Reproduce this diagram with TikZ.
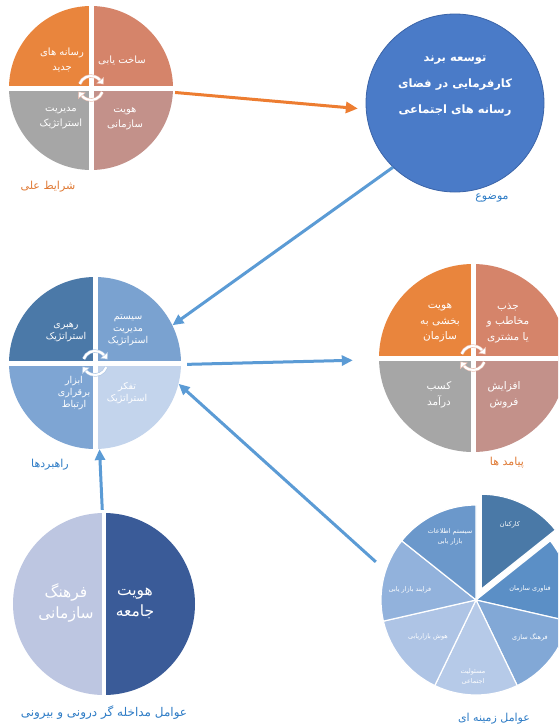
\documentclass[tikz,border=0pt]{standalone}
\usepackage{fontspec}
\usetikzlibrary{arrows.meta}
\TeXXeTstate=1
\newfontfamily\ar[Script=Arabic]{DejaVu Sans}
\newcommand{\fa}[1]{{\beginR #1\endR}}
\definecolor{qorange}{HTML}{E9853D}
\definecolor{qsalmon}{HTML}{D5846A}
\definecolor{qgray}{HTML}{A6A6A6}
\definecolor{qrosy}{HTML}{C3918A}
\definecolor{bigblue}{HTML}{4A7BC8}
\definecolor{bigblueD}{HTML}{3B64A8}
\definecolor{mA}{HTML}{4B79A8}
\definecolor{mB}{HTML}{7AA2D0}
\definecolor{mC}{HTML}{7EA5D3}
\definecolor{mD}{HTML}{C3D4EC}
\definecolor{hL}{HTML}{BDC6E1}
\definecolor{hR}{HTML}{3A5B98}
\definecolor{arrblue}{HTML}{5B9BD5}
\definecolor{arrorange}{HTML}{ED7D31}
\definecolor{labblue}{HTML}{2E7CC6}
\definecolor{laborange}{HTML}{E07A35}
\definecolor{p0}{HTML}{4A79A7}
\definecolor{p1}{HTML}{5B8FC6}
\definecolor{p2}{HTML}{82A8D6}
\definecolor{p3}{HTML}{B6CAE8}
\definecolor{p4}{HTML}{AEC4E5}
\definecolor{p5}{HTML}{92B2DC}
\definecolor{p6}{HTML}{6B98CB}
\newcommand\qcirc[7]{%
  \fill[#4] (#1,#2) -- ++(180:#3) arc[start angle=180,end angle=90,radius=#3] -- cycle;
  \fill[#5] (#1,#2) -- ++(90:#3) arc[start angle=90,end angle=0,radius=#3] -- cycle;
  \fill[#6] (#1,#2) -- ++(180:#3) arc[start angle=180,end angle=270,radius=#3] -- cycle;
  \fill[#7] (#1,#2) -- ++(270:#3) arc[start angle=270,end angle=360,radius=#3] -- cycle;
  \draw[white,line width=5pt] ([xshift=-#3-2pt]#1,#2) -- ([xshift=#3+2pt]#1,#2);
  \draw[white,line width=5pt] ([yshift=-#3-2pt]#1,#2) -- ([yshift=#3+2pt]#1,#2);
}
\newcommand\cyc[3]{%
  \begin{scope}[shift={(#1,#2)}]
    \draw[line width=3.4pt,#3] (160:12) arc[start angle=160,end angle=40,radius=12];
    \draw[line width=3.4pt,#3] (-20:12) arc[start angle=-20,end angle=-140,radius=12];
    \draw[line width=2.2pt,white] (160:12) arc[start angle=160,end angle=40,radius=12];
    \draw[line width=2.2pt,white] (-20:12) arc[start angle=-20,end angle=-140,radius=12];
    \filldraw[fill=white,draw=#3,line width=0.5pt] (12.4,3.9) -- (40:7.5) -- (40:16.5) -- cycle;
    \filldraw[fill=white,draw=#3,line width=0.5pt] (-12.4,-3.9) -- (-140:7.5) -- (-140:16.5) -- cycle;
  \end{scope}}
\begin{document}
\begin{tikzpicture}[x=1pt,y=1pt,
  lab/.style={font=\ar\fontsize{11}{13}\selectfont},
  qt/.style={text=white,align=center,font=\ar\fontsize{10}{14.5}\selectfont},
  ot/.style={text=white,align=center,font=\ar\fontsize{10.5}{15.5}\selectfont},
  mt/.style={text=white,align=center,font=\ar\fontsize{9.5}{12}\selectfont},
  pt/.style={text=white,align=center,font=\ar\fontsize{6.5}{10}\selectfont},
  ring/.style={circle,inner sep=0pt,draw=none},
  arr/.style={line width=3pt,draw=arrblue,-{Triangle[width=10pt,length=11pt]}},
  oarr/.style={line width=3pt,draw=arrorange,-{Triangle[width=11pt,length=12pt]}}]
\useasboundingbox (0,0) rectangle (558,-728);
\clip (0,0) rectangle (558,-728);
\fill[white] (0,0) rectangle (558,-728);

% ---- top-left: causal conditions
\qcirc{91}{-88}{82}{qorange}{qsalmon}{qgray}{qrosy}
\cyc{91}{-88}{qsalmon!55}
\node[ring,minimum size=164pt] (tl) at (91,-88) {};
\node[qt] (tl1) at (62,-60) {\fa{رسانه های}\\\fa{جدید}};
\node[qt] (tl2) at (122,-60) {\fa{ساخت یابی}};
\node[qt] (tl3) at (61,-118) {\fa{مدیریت}\\\fa{استراتژیک}};
\node[qt] (tl4) at (125,-119) {\fa{هویت}\\\fa{سازمانی}};
\node[lab,text=laborange] (tllab) at (48,-187) {\fa{شرایط علی}};

% ---- topic circle
\node[ring,minimum size=178pt,fill=bigblue,draw=bigblueD,line width=0.8pt] (topic) at (455,-103) {};
\node[text=white,align=center,font=\ar\bfseries\fontsize{11.5}{26}\selectfont] (topict) at (455,-86)
  {\fa{توسعه برند}\\\fa{کارفرمایی  در فضای}\\\fa{رسانه های اجتماعی}};
\node[lab,text=labblue] (topiclab) at (492,-198) {\fa{موضوع}};

% ---- strategies
\qcirc{95}{-363}{86}{mA}{mB}{mC}{mD}
\cyc{95}{-363}{mB!60}
\node[ring,minimum size=172pt] (mid) at (95,-363) {};
\node[mt] (m1) at (66,-332) {\fa{رهبری}\\\fa{استراتژیک}};
\node[mt] (m2) at (128,-330) {\fa{سیستم}\\\fa{مدیریت}\\\fa{استراتژیک}};
\node[mt] (m3) at (74,-393) {\fa{ابزار}\\\fa{برقراری}\\\fa{ارتباط}};
\node[mt] (m4) at (127,-393) {\fa{تفکر}\\\fa{استراتژیک}};
\node[lab,text=labblue] (midlab) at (50,-465) {\fa{راهبردها}};

% ---- outcomes
\qcirc{473}{-358}{94}{qorange}{qsalmon}{qgray}{qrosy}
\cyc{473}{-358}{qsalmon!55}
\node[ring,minimum size=188pt] (out) at (473,-358) {};
\node[ot] (o1) at (440,-323) {\fa{هویت}\\\fa{بخشی به}\\\fa{سازمان}};
\node[ot] (o2) at (508,-323) {\fa{جذب}\\\fa{مخاطب و}\\\fa{یا مشتری}};
\node[ot] (o3) at (439,-395) {\fa{کسب}\\\fa{درآمد}};
\node[ot] (o4) at (504,-395) {\fa{افزایش}\\\fa{فروش}};
\node[lab,text=laborange] (outlab) at (507,-463) {\fa{پیامد ها}};

% ---- intervening conditions
\fill[hL] (104,-604) -- ++(90:91) arc[start angle=90,end angle=270,radius=91] -- cycle;
\fill[hR] (104,-604) -- ++(-90:91) arc[start angle=-90,end angle=90,radius=91] -- cycle;
\draw[white,line width=4pt] (104,-511) -- (104,-697);
\node[ring,minimum size=182pt] (half) at (104,-604) {};
\node[text=white,align=center,font=\ar\fontsize{15.5}{21}\selectfont] (h1) at (66,-603) {\fa{فرهنگ}\\\fa{سازمانی}};
\node[text=white,align=center,font=\ar\fontsize{15.5}{21}\selectfont] (h2) at (135,-603) {\fa{هویت}\\\fa{جامعه}};
\node[lab,text=labblue,font=\ar\fontsize{12}{13}\selectfont] (halflab) at (104,-713) {\fa{عوامل مداخله گر درونی و بیرونی}};

% ---- contextual conditions (pie)
\begin{scope}[shift={(476,-600)}]
  \foreach \i/\c in {1/p1,2/p2,3/p3,4/p4,5/p5,6/p6}{
    \filldraw[fill=\c,draw=white,line width=1.2pt] (0,0) -- ({90-\i*51.4286}:95)
      arc[start angle={90-\i*51.4286},end angle={90-(\i+1)*51.4286},radius=95] -- cycle;
  }
  \filldraw[fill=p0,draw=white,line width=1.2pt,shift={(64.29:12)}] (0,0) -- (90:95)
      arc[start angle=90,end angle=38.571,radius=95] -- cycle;
\end{scope}
\node[ring,minimum size=190pt] (pie) at (476,-600) {};
\node[pt] (s0) at (510,-525) {\fa{کارکنان}};
\node[pt] (s1) at (530,-589) {\fa{فناوری سازمان}};
\node[pt] (s2) at (530,-637) {\fa{فرهنگ سازی}};
\node[pt] (s3) at (473,-676) {\fa{مسئولیت}\\\fa{اجتماعی}};
\node[pt] (s4) at (428,-637) {\fa{هوش بازاریابی}};
\node[pt] (s5) at (410,-590) {\fa{فرایند بازار یابی}};
\node[pt] (s6) at (450,-537) {\fa{سیستم اطلاعات}\\\fa{بازار یابی}};
\node[lab,text=labblue] (pielab) at (494,-719) {\fa{عوامل زمینه ای}};

% ---- connectors
\draw[oarr,shorten <=2pt,shorten >=8pt] (tl.-3) -- (topic.184);
\draw[arr] (topic.226) -- (mid.26);
\draw[arr,shorten <=6pt,shorten >=26pt] (mid.-1) -- (out.181);
\draw[arr,shorten <=13pt] (pie.162) -- (mid.-14);
\draw[arr,shorten <=3pt] (half.91) -- (mid.-87);
\end{tikzpicture}
\end{document}
